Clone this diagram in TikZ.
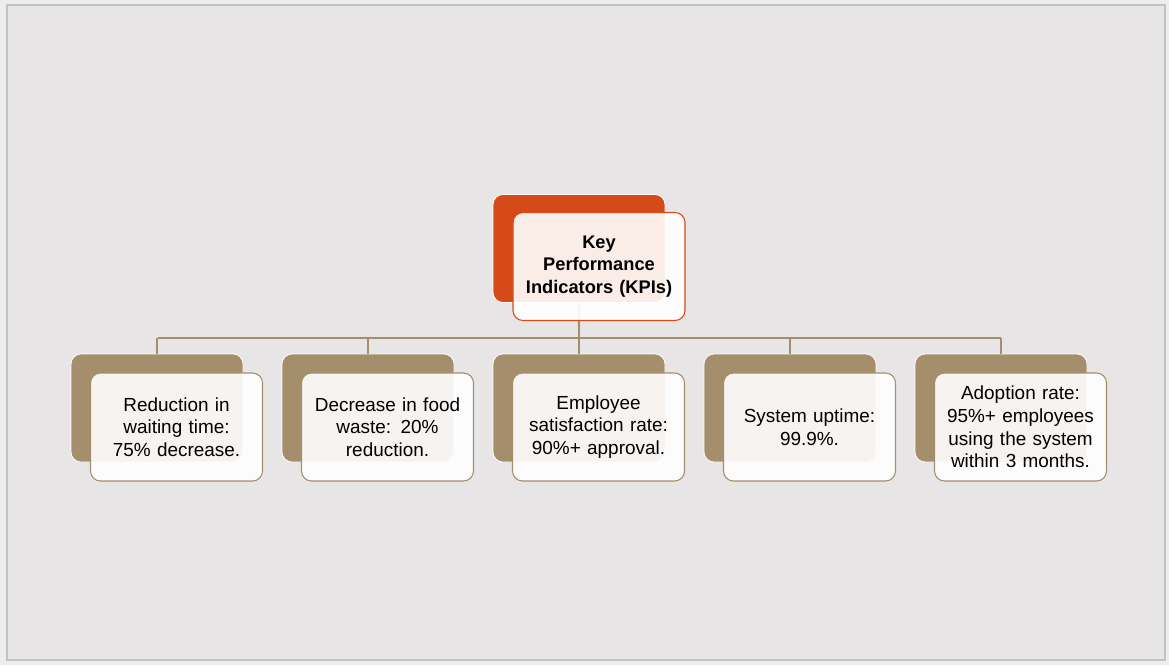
\documentclass[tikz,border=0pt]{standalone}
\usepackage{fontspec}
\setmainfont{Liberation Sans}
\definecolor{pagebg}{HTML}{EDEDED}
\definecolor{slidebg}{HTML}{E7E5E6}
\definecolor{framec}{HTML}{C2C2C2}
\definecolor{kpiorange}{HTML}{D54A18}
\definecolor{kpibrown}{HTML}{A58E6C}
\tikzset{
  px/.style={x=0.75pt,y=-0.75pt},
  backbox/.style={draw=white,line width=0.6pt,rounded corners=7.5pt,minimum width=129pt,minimum height=81pt,inner sep=0pt},
  frontbox/.style={line width=0.8pt,rounded corners=7.5pt,fill=white,fill opacity=0.9,text opacity=1,minimum width=129pt,minimum height=81pt,inner sep=0pt,align=center,font=\fontsize{14.2}{17}\selectfont,text width=127pt},
  conn/.style={draw=kpibrown,line width=0.8pt},
}
\begin{document}
\begin{tikzpicture}[px]
\useasboundingbox (0,0) rectangle (1169,665);
\fill[pagebg] (0,0) rectangle (1169,665);
\draw[framec,fill=slidebg,line width=0.9pt] (7,5) rectangle (1165,660);
% connector coordinates
\coordinate (hl) at (158,338);
\coordinate (hr) at (1001,338);
% top node
\node[backbox,fill=kpiorange] (topb) at (579,248.5) {};
% children back boxes
\foreach \i/\x in {1/157,2/368,3/579,4/790,5/1001}{
  \node[backbox,fill=kpibrown] (b\i) at (\x,408) {};
}
% connectors
\coordinate (tj) at (topb.south |- hl);
\draw[conn] (topb.south) -- (tj);
\draw[conn] (hl) -- (hr);
\foreach \i in {1,...,5}{
  \draw[conn] (b\i.north |- hl) -- (b\i.north);
}
% front boxes
\node[frontbox,draw=kpiorange,font=\fontsize{13.7}{17}\selectfont\bfseries] (topf) at (599,266.5) {Key\\Performance\\Indicators (KPIs)};
\node[frontbox,draw=kpibrown] (f1) at (176.5,427) {Reduction in\\waiting time:\\75\% decrease.};
\node[frontbox,draw=kpibrown] (f2) at (387.5,427) {Decrease in food\\waste: 20\%\\reduction.};
\node[frontbox,draw=kpibrown] (f3) at (598.5,427) {Employee\\satisfaction rate:\\90\%+ approval.};
\node[frontbox,draw=kpibrown] (f4) at (809.5,427) {System uptime:\\99.9\%.};
\node[frontbox,draw=kpibrown] (f5) at (1020.5,427) {Adoption rate:\\95\%+ employees\\using the system\\within 3 months.};
\end{tikzpicture}
\end{document}
